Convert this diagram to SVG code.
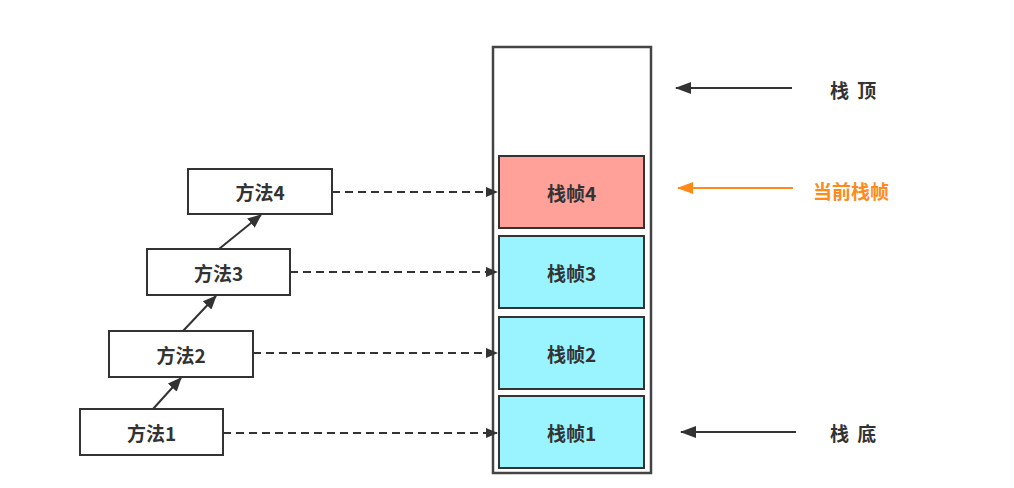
<svg xmlns="http://www.w3.org/2000/svg" width="1014" height="488" viewBox="0 0 1014 488">
<defs>
<style>
.box{fill:#fff;stroke:#333;stroke-width:2}
.stack{fill:#fff;stroke:#444;stroke-width:2.5}
.cur{fill:#FFA099;stroke:#333;stroke-width:2}
.frm{fill:#99F4FF;stroke:#333;stroke-width:2}
.t{font-family:"Noto Sans CJK SC","Liberation Sans",sans-serif;font-size:19px;font-weight:bold;fill:#333;text-anchor:middle;dominant-baseline:central}
.side{font-family:"Noto Sans CJK SC","Liberation Sans",sans-serif;font-size:19px;font-weight:bold;fill:#333;dominant-baseline:central}
.dash{stroke:#333;stroke-width:2;stroke-dasharray:8 5;fill:none}
.solid{stroke:#333;stroke-width:2;fill:none}
.orange{stroke:#FF8A1A;stroke-width:2;fill:none}
</style>
<marker id="ah" markerWidth="12" markerHeight="10" refX="11" refY="5" orient="auto" markerUnits="userSpaceOnUse">
<path d="M0,0 L12,5 L0,10 Z" fill="#333"/>
</marker>
<marker id="ahc" markerWidth="14" markerHeight="12" refX="13" refY="6" orient="auto" markerUnits="userSpaceOnUse">
<path d="M0,0 L14,6 L0,12 Z" fill="#333"/>
</marker>
<marker id="ahb" markerWidth="16" markerHeight="12" refX="15" refY="6" orient="auto" markerUnits="userSpaceOnUse">
<path d="M0,0 L16,6 L0,12 Z" fill="#333"/>
</marker>
<marker id="aho" markerWidth="16" markerHeight="12" refX="15" refY="6" orient="auto" markerUnits="userSpaceOnUse">
<path d="M0,0 L16,6 L0,12 Z" fill="#FF8A1A"/>
</marker>
</defs>
<rect width="1014" height="488" fill="#fff"/>

<g id="stack">
<rect class="stack" x="493" y="47" width="158" height="426"/>
</g>
<g id="frame4"><rect class="cur" x="499" y="156" width="145" height="72"/><text class="t" x="571.5" y="192">栈帧4</text></g>
<g id="frame3"><rect class="frm" x="499" y="236" width="145" height="72"/><text class="t" x="571.5" y="272">栈帧3</text></g>
<g id="frame2"><rect class="frm" x="499" y="317" width="145" height="72"/><text class="t" x="571.5" y="353">栈帧2</text></g>
<g id="frame1"><rect class="frm" x="499" y="396" width="145" height="72"/><text class="t" x="571.5" y="432">栈帧1</text></g>

<g id="method4"><rect class="box" x="188" y="169" width="144" height="45"/><text class="t" x="260" y="191.5">方法4</text></g>
<g id="method3"><rect class="box" x="147" y="249" width="143" height="46"/><text class="t" x="218.5" y="272">方法3</text></g>
<g id="method2"><rect class="box" x="109" y="331" width="144" height="46"/><text class="t" x="181" y="354">方法2</text></g>
<g id="method1"><rect class="box" x="80" y="409" width="143" height="46"/><text class="t" x="151.5" y="432">方法1</text></g>

<g id="label-top"><text class="side" x="830" y="89" style="letter-spacing:2px">栈 顶</text></g>
<g id="label-current"><text class="side" x="813" y="190" style="fill:#FF8A1A">当前栈帧</text></g>
<g id="label-bottom"><text class="side" x="830" y="432" style="letter-spacing:2px">栈 底</text></g>

<g id="connectors">
<line class="solid" x1="153" y1="409" x2="181" y2="378" marker-end="url(#ahc)"/>
<line class="solid" x1="183" y1="331" x2="216" y2="296" marker-end="url(#ahc)"/>
<line class="solid" x1="219" y1="249" x2="261" y2="215" marker-end="url(#ahc)"/>
<line class="dash" x1="332" y1="192" x2="497" y2="192" marker-end="url(#ah)"/>
<line class="dash" x1="290" y1="272" x2="497" y2="272" marker-end="url(#ah)"/>
<line class="dash" x1="253" y1="353" x2="497" y2="353" marker-end="url(#ah)"/>
<line class="dash" x1="223" y1="433" x2="497" y2="433" marker-end="url(#ah)"/>
<line class="solid" x1="792" y1="88" x2="676" y2="88" marker-end="url(#ahb)"/>
<line class="orange" x1="793" y1="188" x2="678" y2="188" marker-end="url(#aho)"/>
<line class="solid" x1="796" y1="432" x2="681" y2="432" marker-end="url(#ahb)"/>
</g>
</svg>
